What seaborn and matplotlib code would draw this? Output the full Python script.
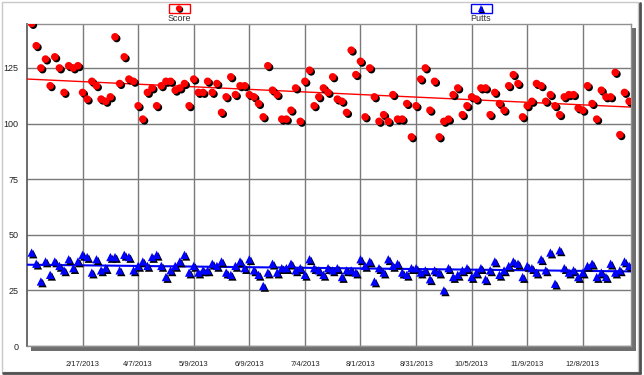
import matplotlib
matplotlib.use("Agg")
import matplotlib.pyplot as plt
import matplotlib.patheffects as pe
from matplotlib.patches import Rectangle
from matplotlib.lines import Line2D
import seaborn as sns
import numpy as np

# === Data (one round per point, category axis) ===
score = [145, 135, 125, 129, 117, 130, 125, 114, 126, 125, 126, 114, 111, 119, 117,
         111, 110, 112, 139, 118, 130, 120, 119, 108, 102, 114, 116, 108, 117, 119,
         119, 115, 116, 118, 108, 120, 114, 114, 119, 114, 118, 105, 112, 121, 113,
         117, 117, 113, 112, 109, 103, 126, 115, 113, 102, 102, 106, 116, 101, 119,
         124, 108, 112, 116, 114, 121, 111, 110, 105, 133, 122, 128, 103, 125, 112,
         101, 104, 101, 113, 102, 102, 109, 94, 108, 120, 125, 106, 119,
         94, 101, 102, 113, 116, 104, 108, 112, 111, 116, 116, 104, 114, 109, 106,
         117, 122, 118, 103, 108, 110, 118, 117, 110, 113, 108, 104, 112, 113, 113,
         107, 106, 117, 109, 102, 115, 112, 112, 123, 95, 114, 110]

putts = [42, 37, 29, 38, 32, 38, 36, 34, 39, 35, 38, 41, 40, 33, 39, 34, 35, 40,
         40, 34, 41, 40, 34, 36, 38, 36, 40, 41, 36, 31, 34, 36, 38, 41, 33, 36,
         33, 34, 34, 37, 36,
         38, 33, 32, 36, 38, 35, 39, 34, 32, 27, 33, 37, 33, 35, 35, 37, 34, 35,
         32, 39, 35, 34, 32, 35, 34, 35, 31, 34, 34, 33, 39, 36, 38, 29, 35, 33,
         39, 36, 37, 33, 32, 35, 35, 33,
         34, 30, 34, 33, 25, 35, 31, 32, 34, 35, 31, 33, 35, 30, 34, 38, 32, 34,
         36, 38, 37, 31, 36, 35, 33, 39, 34, 42, 28, 43, 35, 33, 34, 31, 33, 36,
         37, 31, 33, 31, 37, 33, 34, 38, 36]

tick_idx = [11, 23, 35, 47, 59, 71, 83, 95, 107, 119]
tick_labels = ["2/17/2013", "4/7/2013", "5/9/2013", "6/9/2013", "7/4/2013",
               "8/1/2013", "8/31/2013", "10/5/2013", "11/9/2013", "12/8/2013"]

rounds = np.arange(len(score))

# === Style ===
sns.set_style("white")
plt.rcParams['font.family'] = ['Liberation Sans', 'DejaVu Sans']

fig = plt.figure(figsize=(6.44, 3.75), dpi=100)
ax = fig.add_axes([27 / 644, 1 - 346 / 375, 604 / 644, 322.5 / 375])
ax.set_xlim(-1.0, 129.4)
ax.set_ylim(0, 145)

shadow = [pe.SimplePatchShadow(offset=(1.2, -1.2), shadow_rgbFace="black", alpha=1.0),
          pe.Normal()]

# trend lines
sns.regplot(x=rounds, y=score, scatter=False, ci=None, truncate=False, ax=ax,
            color="red", line_kws=dict(lw=1.0, zorder=3))
sns.regplot(x=rounds, y=putts, scatter=False, ci=None, truncate=False, ax=ax,
            color="blue", line_kws=dict(lw=1.5, zorder=3))

# points
sns.scatterplot(x=rounds, y=score, ax=ax, color="red", marker="o", s=30,
                linewidth=0, zorder=4)
ax.collections[-1].set_path_effects(shadow)
sns.scatterplot(x=rounds, y=putts, ax=ax, color="blue", marker="^", s=36,
                linewidth=0, zorder=4)
ax.collections[-1].set_path_effects(shadow)

# === Axes, grid, ticks ===
ax.set_xticks(tick_idx)
ax.set_xticklabels(tick_labels, fontsize=5.5, color="#222222")
ax.set_yticks(range(0, 126, 25))
ax.set_yticks(range(0, 146, 5), minor=True)
ax.tick_params(axis="y", which="major", labelsize=6.5, length=4, width=1,
               color="#707070", pad=2, labelcolor="#222222")
ax.tick_params(axis="y", which="minor", length=2.5, width=0.8, color="#707070")
ax.tick_params(axis="x", which="major", length=6, width=1, color="#707070", pad=5)
ax.grid(True, which="major", color="#7a7a7a", linewidth=1.0, zorder=1)
ax.set_axisbelow(True)
for side in ["top", "right", "bottom"]:
    ax.spines[side].set_color("#909090")
    ax.spines[side].set_linewidth(1.0)
ax.spines["left"].set_color("#606060")
ax.spines["left"].set_linewidth(1.3)
ax.set_xlabel("")
ax.set_ylabel("")

# 3D style floor and wall bands
band_h = 5 / 322.5
band_w = 5 / 604
ax.add_patch(Rectangle((4 / 604, -band_h), 1 - 4 / 604 + band_w, band_h,
                       transform=ax.transAxes, facecolor="#6e6e6e", edgecolor="none",
                       clip_on=False, zorder=0))
ax.add_patch(Rectangle((1, -band_h), band_w, 1 - 4 / 322.5 + band_h,
                       transform=ax.transAxes, facecolor="#6e6e6e", edgecolor="none",
                       clip_on=False, zorder=0))

# === Legend (Score / Putts keys above the plot) ===
def legend_key(cx, color, marker, label):
    fx, fy = cx / 644, 1 - 8.5 / 375
    fig.add_artist(Rectangle((fx - 10.5 / 644, 1 - 13 / 375), 21 / 644, 9.5 / 375,
                             transform=fig.transFigure, facecolor="white",
                             edgecolor=color, linewidth=1.0))
    key = Line2D([fx], [fy], transform=fig.transFigure, marker=marker, color=color,
                 markersize=4.5, linestyle="none", markeredgewidth=0)
    key.set_path_effects([pe.SimplePatchShadow(offset=(0.8, -0.8),
                                               shadow_rgbFace="black", alpha=1.0),
                          pe.Normal()])
    fig.add_artist(key)
    fig.text(fx, 1 - 18.5 / 375, label, ha="center", va="center", fontsize=6.5,
             color="#333333")

legend_key(179, "red", "o", "Score")
legend_key(481, "blue", "^", "Putts")

# === Outer frame with shadow ===
fig.add_artist(Rectangle((1.5 / 644, 3 / 375), 636 / 644, 370.5 / 375,
                         transform=fig.transFigure, facecolor="none",
                         edgecolor="#c8c8c8", linewidth=1.0))
fig.add_artist(Line2D([3 / 644, 640 / 644], [2.5 / 375, 2.5 / 375],
                      transform=fig.transFigure, color="#505050", linewidth=2))
fig.add_artist(Line2D([640 / 644, 640 / 644], [2.5 / 375, 372 / 375],
                      transform=fig.transFigure, color="#505050", linewidth=2))

fig.savefig("out.png", dpi=100)
